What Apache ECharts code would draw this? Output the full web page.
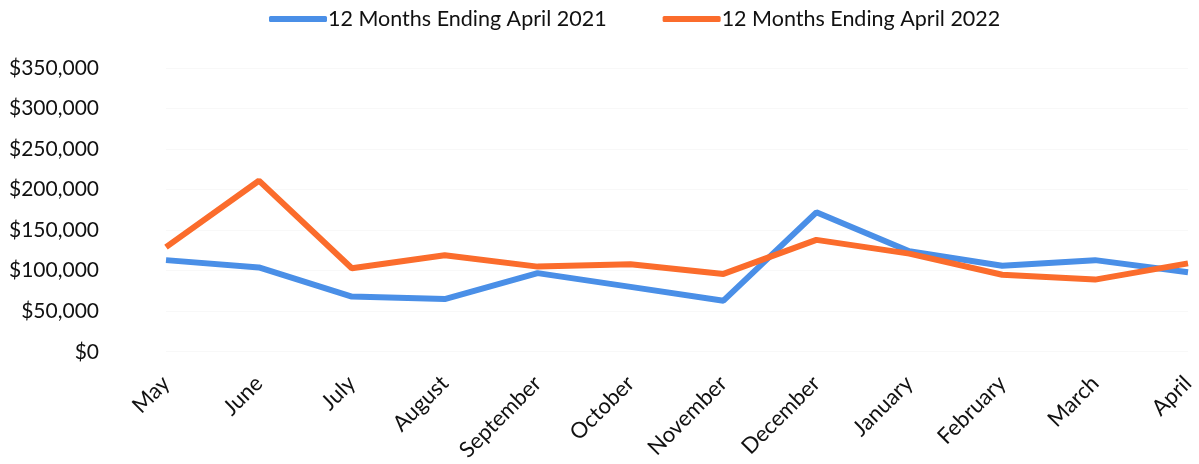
<!DOCTYPE html>
<html>
<head>
<meta charset="utf-8">
<script src="https://cdn.jsdelivr.net/npm/echarts@6/dist/echarts.min.js"></script>
<style>html,body{margin:0;padding:0;background:#fff;}#c{width:1199px;height:464px;}</style>
</head>
<body>
<div id="c"></div>
<script>
const categories = ['May','June','July','August','September','October','November','December','January','February','March','April'];
const series2021 = [113000,104000,68000,65000,97000,80000,63000,172000,124000,106000,113000,98000];
const series2022 = [129000,211000,103000,119000,105000,108000,96000,138000,121000,95000,89000,109000];
const seriesNames = ['12 Months Ending April 2021','12 Months Ending April 2022'];
const yTicks = {min:0, max:350000, interval:50000};

const chart = echarts.init(document.getElementById('c'));
const font = 'Lato, "Open Sans", sans-serif';
chart.setOption({
  animation:false,
  color:['#4a8fe7','#fb6c2c'],
  legend:{
    top:3, left:264,
    itemWidth:58, itemHeight:6, itemGap:56,
    icon:'roundRect',
    textStyle:{fontFamily:font, fontSize:21.5, color:'#111', padding:[0,0,0,-4]},
    data:seriesNames
  },
  grid:{left:166, right:11, top:68, bottom:112, containLabel:false},
  xAxis:{
    type:'category', data:categories, boundaryGap:false,
    axisLine:{show:false}, axisTick:{show:false},
    axisLabel:{rotate:45, margin:28, fontFamily:font, fontSize:22, color:'#111', interval:0}
  },
  yAxis:{
    type:'value', min:yTicks.min, max:yTicks.max, interval:yTicks.interval,
    axisLine:{show:false}, axisTick:{show:false},
    splitLine:{lineStyle:{color:'#f8f8f8', width:1}},
    axisLabel:{margin:67, fontFamily:font, fontSize:21, color:'#111',
      formatter:v=>'$'+v.toLocaleString('en-US')}
  },
  series:[
    {name:seriesNames[0], type:'line', data:series2021, showSymbol:false, lineStyle:{width:6}},
    {name:seriesNames[1], type:'line', data:series2022, showSymbol:false, lineStyle:{width:6}}
  ]
});
</script>
</body>
</html>
